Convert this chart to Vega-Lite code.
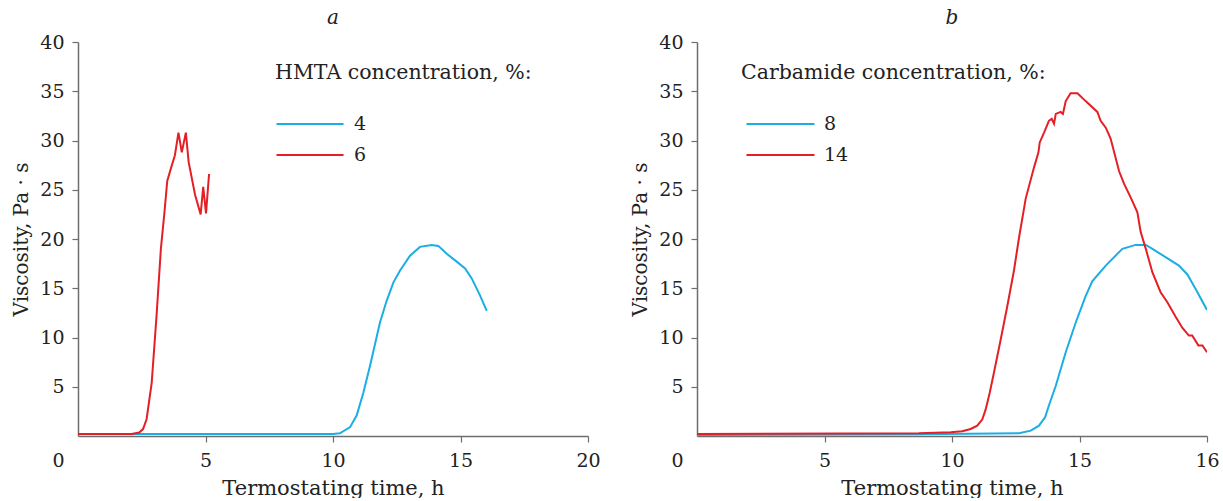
{
  "$schema": "https://vega.github.io/schema/vega-lite/v6.json",
  "padding": {"left": 11, "top": 8, "right": 5, "bottom": 0},
  "spacing": 29,
  "background": "white",
  "config": {
    "font": "DejaVu Serif",
    "view": {"stroke": null},
    "axis": {
      "labelFont": "DejaVu Serif", "labelFontSize": 19, "labelColor": "#222",
      "titleFont": "DejaVu Serif", "titleFontSize": 20, "titleFontWeight": "normal", "titleColor": "#222",
      "domainColor": "#6e6e6e", "tickColor": "#6e6e6e", "domainWidth": 1.5, "tickWidth": 1.2, "tickSize": 6,
      "grid": false
    },
    "legend": {
      "labelFont": "DejaVu Serif", "labelFontSize": 19, "labelColor": "#222",
      "titleFont": "DejaVu Serif", "titleFontSize": 20.5, "titleFontWeight": "normal", "titleColor": "#222",
      "titleLimit": 400, "padding": 0, "symbolSize": 100, "symbolStrokeWidth": 2,
      "titlePadding": 31, "rowPadding": 11
    },
    "title": {"font": "DejaVu Serif", "fontStyle": "italic", "fontSize": 20, "fontWeight": "normal", "color": "#222", "offset": 5}
  },
  "datasets": {
    "left": [
      {"c": "4", "t": 0, "v": 0.2}, {"c": "4", "t": 10.0, "v": 0.2}, {"c": "4", "t": 10.27, "v": 0.27}, {"c": "4", "t": 10.67, "v": 0.9},
      {"c": "4", "t": 10.93, "v": 2.1}, {"c": "4", "t": 11.19, "v": 4.4}, {"c": "4", "t": 11.45, "v": 7.1}, {"c": "4", "t": 11.84, "v": 11.5},
      {"c": "4", "t": 12.1, "v": 13.7}, {"c": "4", "t": 12.37, "v": 15.6}, {"c": "4", "t": 12.63, "v": 16.8}, {"c": "4", "t": 13.02, "v": 18.3},
      {"c": "4", "t": 13.41, "v": 19.2}, {"c": "4", "t": 13.87, "v": 19.4}, {"c": "4", "t": 14.13, "v": 19.3}, {"c": "4", "t": 14.46, "v": 18.5},
      {"c": "4", "t": 14.85, "v": 17.7}, {"c": "4", "t": 15.18, "v": 17.0}, {"c": "4", "t": 15.44, "v": 16.0}, {"c": "4", "t": 15.76, "v": 14.3},
      {"c": "4", "t": 16.03, "v": 12.7},
      {"c": "6", "t": 0, "v": 0.2}, {"c": "6", "t": 2.1, "v": 0.2}, {"c": "6", "t": 2.4, "v": 0.35}, {"c": "6", "t": 2.55, "v": 0.7},
      {"c": "6", "t": 2.69, "v": 1.7}, {"c": "6", "t": 2.89, "v": 5.4}, {"c": "6", "t": 3.08, "v": 12.2}, {"c": "6", "t": 3.25, "v": 19.0},
      {"c": "6", "t": 3.39, "v": 22.7}, {"c": "6", "t": 3.5, "v": 25.9}, {"c": "6", "t": 3.67, "v": 27.4}, {"c": "6", "t": 3.8, "v": 28.5},
      {"c": "6", "t": 3.94, "v": 30.8}, {"c": "6", "t": 4.07, "v": 28.8}, {"c": "6", "t": 4.23, "v": 30.8}, {"c": "6", "t": 4.34, "v": 27.8},
      {"c": "6", "t": 4.59, "v": 24.5}, {"c": "6", "t": 4.81, "v": 22.5}, {"c": "6", "t": 4.91, "v": 25.3}, {"c": "6", "t": 5.02, "v": 22.6},
      {"c": "6", "t": 5.14, "v": 26.6}
    ],
    "right": [
      {"c": "8", "t": 0, "v": 0.1}, {"c": "8", "t": 8.7, "v": 0.17}, {"c": "8", "t": 12.63, "v": 0.27}, {"c": "8", "t": 13.09, "v": 0.54},
      {"c": "8", "t": 13.41, "v": 1.05}, {"c": "8", "t": 13.65, "v": 1.9}, {"c": "8", "t": 13.8, "v": 3.1}, {"c": "8", "t": 14.07, "v": 5.1},
      {"c": "8", "t": 14.46, "v": 8.5}, {"c": "8", "t": 14.85, "v": 11.5}, {"c": "8", "t": 15.24, "v": 14.2}, {"c": "8", "t": 15.5, "v": 15.7},
      {"c": "8", "t": 16.03, "v": 17.3}, {"c": "8", "t": 16.68, "v": 19.0}, {"c": "8", "t": 17.2, "v": 19.4}, {"c": "8", "t": 17.6, "v": 19.4},
      {"c": "8", "t": 17.86, "v": 19.0}, {"c": "8", "t": 18.9, "v": 17.3}, {"c": "8", "t": 19.23, "v": 16.4}, {"c": "8", "t": 19.56, "v": 14.9},
      {"c": "8", "t": 20.0, "v": 12.8},
      {"c": "14", "t": 0, "v": 0.2}, {"c": "14", "t": 8.7, "v": 0.27}, {"c": "14", "t": 9.95, "v": 0.37}, {"c": "14", "t": 10.4, "v": 0.48},
      {"c": "14", "t": 10.73, "v": 0.71}, {"c": "14", "t": 10.99, "v": 1.05}, {"c": "14", "t": 11.19, "v": 1.7}, {"c": "14", "t": 11.32, "v": 2.7},
      {"c": "14", "t": 11.48, "v": 4.4}, {"c": "14", "t": 11.65, "v": 6.5}, {"c": "14", "t": 11.91, "v": 9.8}, {"c": "14", "t": 12.17, "v": 13.2},
      {"c": "14", "t": 12.43, "v": 16.8}, {"c": "14", "t": 12.62, "v": 20.0}, {"c": "14", "t": 12.89, "v": 24.1}, {"c": "14", "t": 13.22, "v": 27.3},
      {"c": "14", "t": 13.39, "v": 28.8}, {"c": "14", "t": 13.44, "v": 29.8}, {"c": "14", "t": 13.61, "v": 30.8}, {"c": "14", "t": 13.8, "v": 32.0},
      {"c": "14", "t": 13.91, "v": 32.2}, {"c": "14", "t": 14.0, "v": 31.7}, {"c": "14", "t": 14.07, "v": 32.7}, {"c": "14", "t": 14.26, "v": 32.9},
      {"c": "14", "t": 14.35, "v": 32.7}, {"c": "14", "t": 14.46, "v": 34.0}, {"c": "14", "t": 14.65, "v": 34.8}, {"c": "14", "t": 14.92, "v": 34.8},
      {"c": "14", "t": 15.24, "v": 34.0}, {"c": "14", "t": 15.7, "v": 32.9}, {"c": "14", "t": 15.83, "v": 32.0}, {"c": "14", "t": 16.03, "v": 31.3},
      {"c": "14", "t": 16.22, "v": 30.2}, {"c": "14", "t": 16.55, "v": 26.9}, {"c": "14", "t": 16.75, "v": 25.6}, {"c": "14", "t": 17.01, "v": 24.2},
      {"c": "14", "t": 17.27, "v": 22.7}, {"c": "14", "t": 17.4, "v": 20.7}, {"c": "14", "t": 17.6, "v": 19.0}, {"c": "14", "t": 17.86, "v": 16.6},
      {"c": "14", "t": 18.18, "v": 14.6}, {"c": "14", "t": 18.44, "v": 13.6}, {"c": "14", "t": 18.77, "v": 12.1}, {"c": "14", "t": 19.03, "v": 11.0},
      {"c": "14", "t": 19.29, "v": 10.2}, {"c": "14", "t": 19.42, "v": 10.2}, {"c": "14", "t": 19.66, "v": 9.2}, {"c": "14", "t": 19.82, "v": 9.2},
      {"c": "14", "t": 20.0, "v": 8.5}
    ]
  },
  "hconcat": [
    {
      "width": 510, "height": 394,
      "title": {"text": "a"},
      "data": {"name": "left"},
      "mark": {"type": "line", "strokeWidth": 2, "clip": true},
      "encoding": {
        "x": {"field": "t", "type": "quantitative", "scale": {"domain": [0, 20], "nice": false},
          "axis": {"title": "Termostating time, h", "titleFontSize": 21, "values": [0, 5, 10, 15, 20], "labelPadding": 9, "titlePadding": 7, "labelFlush": false,
            "labelOffset": {"condition": {"test": "datum.value == 0", "value": -20}, "value": 0},
            "tickOpacity": {"condition": {"test": "datum.value == 0", "value": 0}, "value": 1}}},
        "y": {"field": "v", "type": "quantitative", "scale": {"domain": [0, 40], "nice": false},
          "axis": {"title": "Viscosity, Pa · s", "values": [5, 10, 15, 20, 25, 30, 35, 40], "labelPadding": 8, "titlePadding": 8}},
        "color": {"field": "c", "type": "nominal", "sort": ["4", "6"],
          "scale": {"domain": ["4", "6"], "range": ["#1aaee5", "#e41f26"]},
          "legend": {"title": "HMTA concentration, %:", "orient": "none", "legendX": 197, "legendY": 21,
            "symbolType": "M-1.6,0H11.8", "labelOffset": 60}}
      }
    },
    {
      "width": 510, "height": 394,
      "title": {"text": "b"},
      "data": {"name": "right"},
      "mark": {"type": "line", "strokeWidth": 2, "clip": true},
      "encoding": {
        "x": {"field": "t", "type": "quantitative", "scale": {"domain": [0, 20], "nice": false},
          "axis": {"title": "Termostating time, h", "titleFontSize": 21, "values": [0, 5, 10, 15, 20], "labelPadding": 9, "titlePadding": 7, "labelFlush": false,
            "labelExpr": "datum.value == 20 ? '16' : datum.label",
            "labelOffset": {"condition": {"test": "datum.value == 0", "value": -20}, "value": 0},
            "tickOpacity": {"condition": {"test": "datum.value == 0", "value": 0}, "value": 1}}},
        "y": {"field": "v", "type": "quantitative", "scale": {"domain": [0, 40], "nice": false},
          "axis": {"title": "Viscosity, Pa · s", "values": [5, 10, 15, 20, 25, 30, 35, 40], "labelPadding": 8, "titlePadding": 8}},
        "color": {"field": "c", "type": "nominal", "sort": ["8", "14"],
          "scale": {"domain": ["8", "14"], "range": ["#1aaee5", "#e41f26"]},
          "legend": {"title": "Carbamide concentration, %:", "orient": "none", "legendX": 44, "legendY": 21,
            "symbolType": "M-0.8,0H12.8", "labelOffset": 64}}
      }
    }
  ],
  "resolve": {"scale": {"color": "independent"}}
}
